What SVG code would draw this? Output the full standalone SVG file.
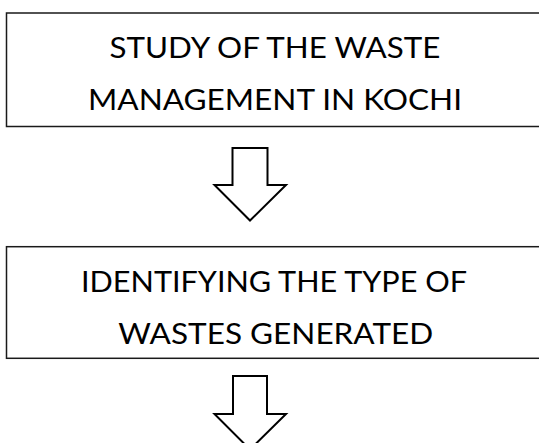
<svg xmlns="http://www.w3.org/2000/svg" width="539" height="443" viewBox="0 0 539 443">
<style>
.box{fill:#fff;stroke:#1a1a1a;stroke-width:1.5}
.lbl{font-family:Lato,"Open Sans","Liberation Sans",sans-serif;font-size:29px;fill:#000;text-anchor:middle}
.arr{fill:#fff;stroke:#000;stroke-width:2;stroke-linejoin:miter}
</style>
<rect width="539" height="443" fill="#fff"/>
<g id="node-study">
<rect class="box" x="6.5" y="13" width="537" height="113.5"/>
<text class="lbl" x="275" y="57.5" textLength="331" lengthAdjust="spacingAndGlyphs">STUDY OF THE WASTE</text>
<text class="lbl" x="275" y="110" textLength="374" lengthAdjust="spacingAndGlyphs">MANAGEMENT IN KOCHI</text>
</g>
<g id="node-identify">
<rect class="box" x="6.5" y="246.7" width="537" height="111.6"/>
<text class="lbl" x="274" y="291.5" textLength="386" lengthAdjust="spacingAndGlyphs">IDENTIFYING THE TYPE OF</text>
<text class="lbl" x="275.8" y="344" textLength="315" lengthAdjust="spacingAndGlyphs">WASTES GENERATED</text>
</g>
<g id="connectors">
<path class="arr" d="M232.5,148 H267.5 V185 H286 L250,220.5 L214.5,185 H232.5 Z"/>
<path class="arr" d="M233,376 H267 V414 H286 L250,449.5 L214.5,414 H233 Z"/>
</g>
</svg>
